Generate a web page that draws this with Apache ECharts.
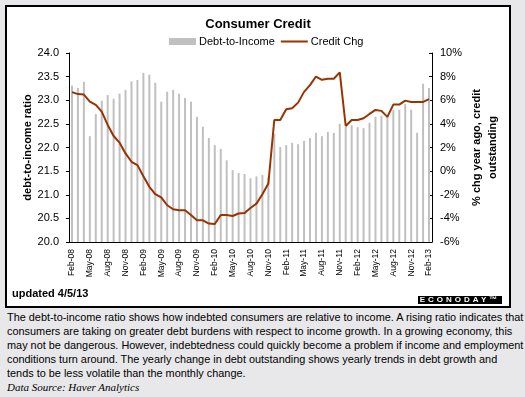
<!DOCTYPE html>
<html>
<head>
<meta charset="utf-8">
<script src="https://cdn.jsdelivr.net/npm/echarts@6/dist/echarts.min.js"></script>
<style>
  body { margin: 0; background: #e8e8ea; width: 525px; height: 397px; overflow: hidden; font-family: 'Liberation Sans', Arial, sans-serif; }
  #box { position: absolute; left: 5px; top: 5px; width: 502px; height: 299px; border: 2px solid #000; background: #fff; }
  #main { position: absolute; left: 0; top: 0; width: 502px; height: 299px; }
  #logo { position: absolute; left: 411px; top: 289px; width: 84px; height: 8px; background: #000; color: #fff;
    font: bold 8px 'Liberation Sans', Arial, sans-serif; line-height: 8px; letter-spacing: 3px; text-align: center; white-space: nowrap; z-index: 5; }
  #note { position: absolute; left: 7px; top: 311px; font-size: 10.9px; line-height: 13.9px; color: #000; white-space: nowrap; }
  #note i { font-family: 'Liberation Serif', 'Times New Roman', serif; font-size: 11px; }
</style>
</head>
<body>
<div id="box">
  <div id="main"></div>
  <div id="logo">ECONODAY&trade;</div>
</div>
<div id="note">The debt-to-income ratio shows how indebted consumers are relative to income. A rising ratio indicates that<br>consumers are taking on greater debt burdens with respect to income growth. In a growing economy, this<br>may not be dangerous. However, indebtedness could quickly become a problem if income and employment<br>conditions turn around. The yearly change in debt outstanding shows yearly trends in debt growth and<br>tends to be less volatile than the monthly change.<br><i>Data Source: Haver Analytics</i></div>
<script>
// monthly, Feb-08 .. Feb-13
const months = [
  'Feb-08','Mar-08','Apr-08','May-08','Jun-08','Jul-08','Aug-08','Sep-08','Oct-08','Nov-08','Dec-08',
  'Jan-09','Feb-09','Mar-09','Apr-09','May-09','Jun-09','Jul-09','Aug-09','Sep-09','Oct-09','Nov-09','Dec-09',
  'Jan-10','Feb-10','Mar-10','Apr-10','May-10','Jun-10','Jul-10','Aug-10','Sep-10','Oct-10','Nov-10','Dec-10',
  'Jan-11','Feb-11','Mar-11','Apr-11','May-11','Jun-11','Jul-11','Aug-11','Sep-11','Oct-11','Nov-11','Dec-11',
  'Jan-12','Feb-12','Mar-12','Apr-12','May-12','Jun-12','Jul-12','Aug-12','Sep-12','Oct-12','Nov-12','Dec-12',
  'Jan-13','Feb-13'
];

// debt-to-income ratio (left axis)
const debtToIncome = [
  23.31, 23.26, 23.39, 22.24, 22.71, 22.99, 23.11, 23.03, 23.14, 23.22, 23.40,
  23.43, 23.58, 23.54, 23.37, 22.97, 23.18, 23.22, 23.14, 23.05, 22.97, 22.65, 22.44,
  22.20, 22.05, 21.97, 21.73, 21.52, 21.46, 21.44, 21.35, 21.39, 21.42, 21.37, 22.29,
  22.01, 22.05, 22.10, 22.07, 22.14, 22.20, 22.31, 22.24, 22.33, 22.31, 22.50, 22.44,
  22.47, 22.43, 22.41, 22.52, 22.65, 22.67, 22.65, 22.80, 22.80, 22.92, 22.80, 22.31,
  23.35, 23.26
];

// credit outstanding, % chg year ago (right axis)
const creditChg = [
  6.69, 6.52, 6.48, 5.89, 5.61, 5.04, 3.91, 2.97, 2.41, 1.50, 0.79,
  0.51, -0.43, -1.33, -1.95, -2.23, -2.89, -3.23, -3.31, -3.31, -3.71, -4.16, -4.16,
  -4.44, -4.48, -3.71, -3.71, -3.80, -3.59, -3.54, -3.12, -2.75, -1.95, -1.05, 4.33,
  4.33, 5.24, 5.33, 5.80, 6.71, 7.28, 8.01, 7.73, 7.82, 7.82, 8.36, 3.82,
  4.33, 4.33, 4.48, 4.84, 5.18, 5.10, 4.59, 5.63, 5.63, 5.97, 5.86, 5.86,
  5.86, 6.09
];

const font = "'Liberation Sans', Arial, sans-serif";

let myChart = echarts.init(document.getElementById('main'));

myChart.setOption({
  animation: false,
  textStyle: { fontFamily: font },
  title: {
    text: 'Consumer Credit',
    left: 'center',
    top: 6,
    textStyle: { fontSize: 13, fontWeight: 'bold', color: '#000', fontFamily: font }
  },
  legend: {
    left: 157,
    top: 24,
    itemWidth: 27,
    itemHeight: 7,
    itemGap: 6,
    symbolKeepAspect: true,
    textStyle: { fontSize: 11, color: '#000', fontFamily: font, padding: [0, 0, 0, -2] },
    data: [
      { name: 'Debt-to-Income', icon: 'rect' },
      { name: 'Credit Chg', icon: 'path://M0,0H27V2H0Z' }
    ]
  },
  grid: { left: 62, right: 70, top: 46, bottom: 64 },
  xAxis: {
    type: 'category',
    data: months,
    boundaryGap: true,
    axisLine: { onZero: false, lineStyle: { color: '#000', width: 1 } },
    axisTick: { interval: 2, alignWithLabel: true, length: 3, lineStyle: { color: '#000' } },
    axisLabel: { interval: 2, rotate: 90, fontSize: 8.5, color: '#000', margin: 7, fontFamily: font }
  },
  yAxis: [
    {
      type: 'value',
      min: 20,
      max: 24,
      interval: 0.5,
      name: 'debt-to-income ratio',
      nameLocation: 'middle',
      nameRotate: 90,
      nameGap: 36,
      nameMoveOverlap: false,
      nameTextStyle: { fontSize: 11, fontWeight: 'bold', color: '#000', fontFamily: font },
      axisLine: { show: true, lineStyle: { color: '#000' } },
      axisTick: { show: true, length: 3, lineStyle: { color: '#000' } },
      axisLabel: { fontSize: 11, color: '#000', margin: 10, formatter: v => v.toFixed(1) },
      splitLine: { show: false }
    },
    {
      type: 'value',
      min: -6,
      max: 10,
      interval: 2,
      position: 'right',
      name: '% chg year ago, credit\noutstanding',
      nameLocation: 'middle',
      nameRotate: 90,
      nameGap: 37,
      nameMoveOverlap: false,
      nameTextStyle: { fontSize: 11, fontWeight: 'bold', color: '#000', lineHeight: 16, align: 'center', fontFamily: font },
      axisLine: { show: true, lineStyle: { color: '#000' } },
      axisTick: { show: true, inside: true, length: 3, lineStyle: { color: '#000' } },
      axisLabel: { fontSize: 11, color: '#000', margin: 8, formatter: v => v + '%' },
      splitLine: { show: false }
    }
  ],
  graphic: [
    {
      type: 'text',
      left: 5,
      top: 281,
      style: { text: 'updated 4/5/13', fontSize: 11, fontWeight: 'bold', fill: '#000', fontFamily: font }
    }
  ],
  series: [
    {
      name: 'Debt-to-Income',
      type: 'bar',
      yAxisIndex: 0,
      barWidth: 2,
      itemStyle: { color: '#c0c0c0' },
      data: debtToIncome,
      z: 1
    },
    {
      name: 'Credit Chg',
      type: 'line',
      yAxisIndex: 1,
      symbol: 'none',
      lineStyle: { color: '#993300', width: 2 },
      itemStyle: { color: '#993300' },
      data: creditChg,
      z: 3
    }
  ]
});
</script>
</body>
</html>
